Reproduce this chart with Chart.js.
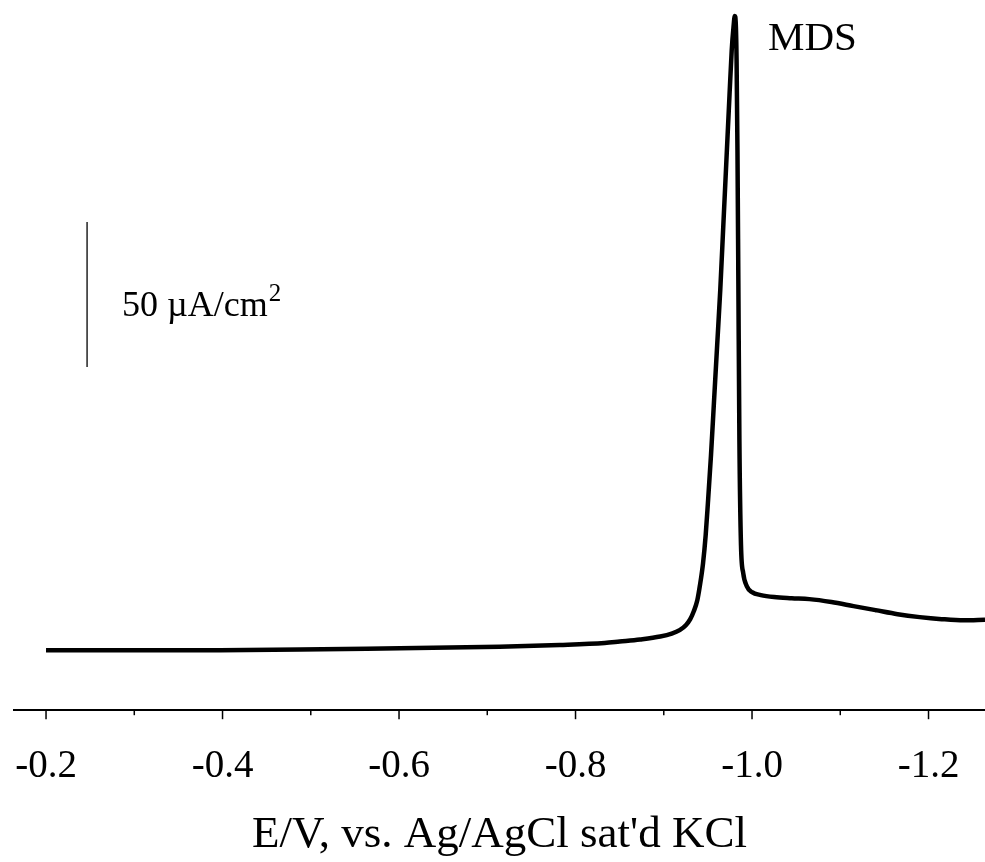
<!DOCTYPE html>
<html>
<head>
<meta charset="utf-8">
<script src="https://cdn.jsdelivr.net/npm/chart.js@4.4.1/dist/chart.umd.min.js"></script>
<style>
  html,body{margin:0;padding:0;background:#fff}
  #wrap{width:985px;height:862px;position:relative}
</style>
</head>
<body>
<div id="wrap"><canvas id="c"></canvas></div>
<script>
// E/V vs Ag/AgCl (sat'd KCl)
const potential = [-0.20,-0.295,-0.397,-0.488,-0.601,-0.714,-0.782,-0.833,-0.850,-0.873,
  -0.896,-0.909,-0.918,-0.925,-0.930,-0.934,-0.938,-0.941,-0.9445,-0.9475,
  -0.950,-0.9535,-0.957,-0.9605,-0.964,-0.9675,-0.971,-0.9745,-0.977,-0.979,
  -0.9805,-0.9815,-0.9825,-0.9835,-0.9845,-0.9857,-0.9875,-0.990,-0.994,-1.000,
  -1.010,-1.025,-1.045,-1.065,-1.090,-1.115,-1.140,-1.165,-1.190,-1.215,-1.240,-1.264];
// current density, uA/cm2 (relative to baseline)
const current = [0,0,0,0.2,0.7,1.2,1.8,2.5,3.0,3.7,
  4.7,5.7,6.9,8.6,10.7,13.4,17.2,22.4,30.0,39.7,
  50.7,67.2,86.2,105.2,124.1,146.6,169.0,191.4,206.9,214.8,
  218.6,216.6,203.4,172.4,127.6,72.4,36.2,26.6,22.1,20.0,
  19.0,18.3,17.9,17.6,16.6,15.2,13.8,12.4,11.4,10.7,10.3,10.5];

const majorTicks = [-0.2,-0.4,-0.6,-0.8,-1.0,-1.2];
const minorTicks = [-0.3,-0.5,-0.7,-0.9,-1.1];
const peakLabel = 'MDS';
const scaleBar = {E:-0.2465, from:97.6, to:147.6, text:'50 \u00B5A/cm', sup:'2'};

const serif = '"Liberation Serif", "DejaVu Serif", serif';

const overlay = {
  id:'overlay',
  afterDraw(chart){
    const {ctx, scales:{x,y}, chartArea} = chart;
    ctx.save();
    // tick marks (major long, minor short)
    ctx.strokeStyle = '#000'; ctx.lineWidth = 1.5;
    const tick = (v, len)=>{
      const px = x.getPixelForValue(v);
      ctx.beginPath(); ctx.moveTo(px, chartArea.bottom); ctx.lineTo(px, chartArea.bottom+len); ctx.stroke();
    };
    majorTicks.forEach(v=>tick(v, 9));
    minorTicks.forEach(v=>tick(v, 5));
    // scale bar
    const bx = x.getPixelForValue(scaleBar.E);
    ctx.lineWidth = 1.3;
    ctx.beginPath(); ctx.moveTo(bx, y.getPixelForValue(scaleBar.to)); ctx.lineTo(bx, y.getPixelForValue(scaleBar.from)); ctx.stroke();
    ctx.fillStyle = '#000';
    ctx.textBaseline = 'alphabetic';
    ctx.font = '36px ' + serif;
    const tx = x.getPixelForValue(-0.2861), ty = y.getPixelForValue(115.2);
    ctx.fillText(scaleBar.text, tx, ty);
    const w = ctx.measureText(scaleBar.text).width;
    ctx.font = '25px ' + serif;
    ctx.fillText(scaleBar.sup, tx + w + 1, ty - 15);
    // peak label
    ctx.font = '41px ' + serif;
    ctx.fillText(peakLabel, x.getPixelForValue(-1.0181), y.getPixelForValue(206.9));
    ctx.restore();
  }
};

new Chart(document.getElementById('c'), {
  type:'line',
  data:{datasets:[{
    data: potential.map((e,i)=>({x:e, y:current[i]})),
    borderColor:'#000', borderWidth:4.5, pointRadius:0,
    cubicInterpolationMode:'monotone', fill:false
  }]},
  options:{
    responsive:true, maintainAspectRatio:false, animation:false,
    layout:{padding:{left:14, right:0, top:10, bottom:0}},
    plugins:{legend:{display:false}, tooltip:{enabled:false}},
    scales:{
      x:{
        type:'linear', reverse:true, min:-1.264, max:-0.1637,
        afterBuildTicks(s){ s.ticks = majorTicks.map(v=>({value:v})); },
        ticks:{color:'#000', padding:0, font:{family:serif, size:39},
          maxRotation:0, autoSkip:false, callback:v=>v.toFixed(1)},
        grid:{drawOnChartArea:false, drawTicks:true, tickLength:33, tickColor:'rgba(0,0,0,0)'},
        border:{display:true, color:'#000', width:2},
        title:{display:true, text:"E/V, vs. Ag/AgCl sat'd KCl", color:'#000',
          font:{family:serif, size:45}, padding:{top:18, bottom:0}}
      },
      y:{
        display:false, min:-20.69, max:220.69
      }
    }
  },
  plugins:[overlay]
});
</script>
</body>
</html>
